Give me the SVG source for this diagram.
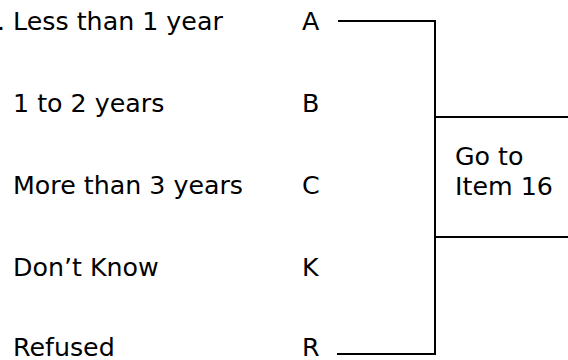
<svg xmlns="http://www.w3.org/2000/svg" width="568" height="360" viewBox="0 0 568 360">
<style>
text{font-family:"DejaVu Sans",sans-serif;font-size:25.3px;fill:#000}
.ln{stroke:#000;stroke-width:2;fill:none}
</style>
<rect width="568" height="360" fill="#fff"/>
<g id="opt-a"><text x="-3" y="29.5">. Less than 1 year</text><text x="302" y="29.5">A</text></g>
<g id="opt-b"><text x="13" y="111.5">1 to 2 years</text><text x="302" y="111.5">B</text></g>
<g id="opt-c"><text x="13" y="194">More than 3 years</text><text x="302" y="194">C</text></g>
<g id="opt-k"><text x="13" y="276">Don’t Know</text><text x="302" y="276">K</text></g>
<g id="opt-r"><text x="13" y="356">Refused</text><text x="302" y="356">R</text></g>
<g id="goto"><text x="455" y="165">Go to</text><text x="455" y="195">Item 16</text></g>
<g id="connectors">
<path class="ln" d="M338 21H435V354H337"/>
<path class="ln" d="M435 117H568M435 237H568"/>
</g>
</svg>
